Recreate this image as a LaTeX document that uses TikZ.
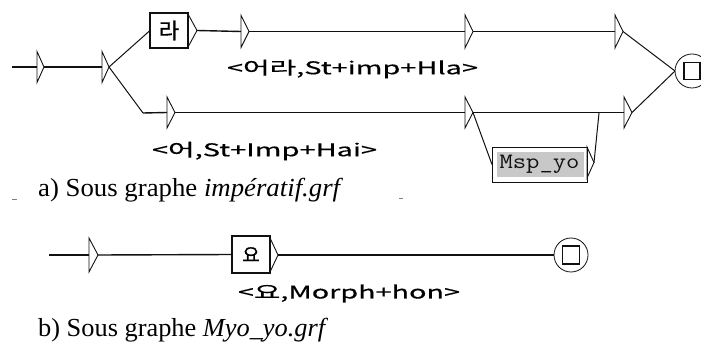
\documentclass[tikz,border=0pt]{standalone}
\usepackage{fontspec}
\usepackage{graphicx}
\setmainfont{Liberation Serif}
\newfontfamily\kor[FakeBold=0.5]{Noto Sans CJK KR}
\newcommand\fitw[2]{\resizebox{#1pt}{\height}{#2}}
\definecolor{lin}{HTML}{111111}
\definecolor{msgray}{HTML}{C8C8C8}
\begin{document}
\begin{tikzpicture}[x=1pt,y=-1pt,
  conn/.style={draw=lin, line width=1.4pt},
  thin/.style={draw=lin, line width=1pt},
  trinode/.style={inner sep=0, outer sep=0, minimum width=8pt, minimum height=31pt},
  statebox/.style={draw=lin, line width=1.1pt, inner sep=0, outer sep=0, minimum width=38pt, minimum height=37pt, font=\kor\fontsize{17}{17}\selectfont},
  lbl/.style={inner sep=0, font=\kor\fontsize{17.5}{17.5}\selectfont},
  finalstate/.style={circle, draw=lin, line width=0.8pt, minimum size=34pt, inner sep=0, outer sep=0},
  caption/.style={inner sep=0, anchor=base west, font=\fontsize{26}{26}\selectfont}
]
\useasboundingbox (0,0) rectangle (701,347);

% ---------- graph a ----------
\coordinate (s0) at (12,67);
\node[trinode, minimum width=7pt] (T1) at (40.5,67) {};
\node[trinode, minimum width=7pt] (T2) at (105.5,67) {};
\node[statebox, minimum height=35pt, font=\kor\fontsize{22}{22}\selectfont] (R) at (169,30.5) {라};
\node[trinode, minimum width=9pt, minimum height=33pt] (RT) at (192.5,30.5) {};
\node[trinode, minimum height=32pt] (T3) at (245,31.5) {};
\node[trinode, minimum height=33pt] (T4) at (469,31.5) {};
\node[trinode, minimum height=33pt] (T5) at (619,31.5) {};
\coordinate (C1) at (143,113);
\node[trinode] (T6) at (171,112.5) {};
\node[trinode] (T7) at (469,112.5) {};
\node[trinode] (T8) at (628,112.5) {};
\node[finalstate] (F) at (692,71) {};
\node[draw=lin, line width=0.8pt, fill=white, inner sep=0, outer sep=0,
      minimum width=95pt, minimum height=35pt,
      path picture={\fill[msgray] ([shift={(5pt,-5pt)}]path picture bounding box.north west) rectangle ([shift={(-3pt,5pt)}]path picture bounding box.south east);},
      font=\ttfamily\fontsize{22}{22}\selectfont, text=lin] (M) at (539.5,164.5) {\fitw{80}{Msp\_yo}};
\node[trinode, minimum width=7pt] (MT) at (590.5,162.5) {};
\coordinate (J) at (599,113);

\node[lbl] (L1) at (352.5,69) {\fitw{251}{<어라,St+imp+Hla>}};
\node[lbl] (L2) at (264.5,151) {\fitw{225}{<어,St+Imp+Hai>}};

\path[conn] (s0) -- (T1.west);
\path[conn] (T1.east) -- (T2.west);
\path[thin] (T2.east) -- (R.west);
\path[thin] (T2.east) -- (C1);
\path[conn] (C1) -- (T6.west);
\path[conn] (RT.east) -- (T3.west);
\path[conn] (T3.east) -- (T4.west);
\path[conn] (T4.east) -- (T5.west);
\path[thin] (T5.east) -- (F.west);
\path[conn] (T6.east) -- (T7.west);
\path[conn] (T7.east) -- (T8.west);
\path[thin] (T8.east) -- (F.west);
\path[thin] (T7.east) -- (M.west);
\path[thin] (MT.east) -- (J);

\draw[lin, line width=1.3pt] ([shift={(-8pt,-8.5pt)}]F.center) rectangle ++(16pt,17pt);

% ---------- graph b ----------
\coordinate (s1) at (49,255);
\node[trinode, minimum width=9pt, minimum height=34pt] (T9) at (93.5,255) {};
\node[statebox, font=\kor\fontsize{19}{19}\selectfont] (Y) at (251,254.5) {요};
\node[trinode, minimum height=34pt] (YT) at (274,255) {};
\node[finalstate] (F2) at (571,255) {};
\node[lbl] (L3) at (349,293.5) {\fitw{222}{<요,Morph+hon>}};

\path[conn] (s1) -- (T9.west);
\path[conn] (T9.east) -- (Y.west);
\path[conn] (YT.east) -- (F2.west);
\draw[lin, line width=1.3pt] ([shift={(-8.5pt,-9pt)}]F2.center) rectangle ++(17pt,18pt);

% triangles
\foreach \n in {T1,T2,RT,T3,T4,T5,T6,T7,T8,MT,T9,YT}
  \draw[lin, line width=0.9pt, line join=miter] (\n.north west) -- (\n.east) -- (\n.south west) -- cycle;

% captions
\node[caption] (CA) at (38,196.5) {\fitw{305}{a) Sous graphe \textit{impératif.grf}}};
\node[caption] (CB) at (38,336.5) {\fitw{290}{b) Sous graphe \textit{Myo\_yo.grf}}};

% stray marks
\draw[gray, line width=0.8pt] (12,199) -- (17,199);
\draw[gray, line width=0.8pt] (399,198) -- (403,198);
\end{tikzpicture}
\end{document}
